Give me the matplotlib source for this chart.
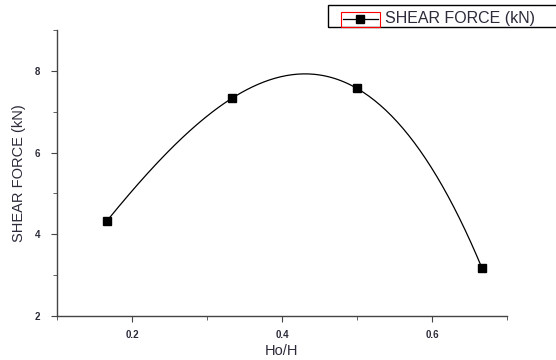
import numpy as np
import matplotlib
matplotlib.use("Agg")
import matplotlib.pyplot as plt
from matplotlib.ticker import MultipleLocator
from matplotlib.patches import Rectangle

plt.rcParams["font.family"] = ["Liberation Sans", "DejaVu Sans"]

# Data
ho_h = [0.1667, 0.3333, 0.5, 0.6667]
shear_force = [4.33, 7.33, 7.57, 3.17]

txt_color = "#2b2b3a"

fig = plt.figure(figsize=(5.56, 3.6), dpi=100)
ax = fig.add_axes([57 / 556, 44 / 360, 450 / 556, 286 / 360])

# smooth curve through the points (cubic through the 4 values)
coef = np.polyfit(ho_h, shear_force, 3)
xs = np.linspace(ho_h[0], ho_h[-1], 200)
ax.plot(xs, np.polyval(coef, xs), color="black", lw=0.9)
ax.plot(ho_h, shear_force, "s", color="black", ms=6, linestyle="none")

ax.set_xlim(0.1, 0.7)
ax.set_ylim(2, 9)
ax.xaxis.set_minor_locator(MultipleLocator(0.1))
ax.yaxis.set_minor_locator(MultipleLocator(1))
ax.set_xticks([0.2, 0.4, 0.6])
ax.set_xticklabels(["0.2", "0.4", "0.6"])
ax.set_yticks([2, 4, 6, 8])
ax.set_yticklabels(["2", "4", "6", "8"])

for s in ["top", "right"]:
    ax.spines[s].set_visible(False)
for s in ["left", "bottom"]:
    ax.spines[s].set_color("#444444")
    ax.spines[s].set_linewidth(1.0)
ax.tick_params(which="both", direction="out", colors="#444444", labelcolor=txt_color,
               labelsize=7)
ax.tick_params(which="major", length=4)
ax.tick_params(which="minor", length=3)
ax.tick_params(axis="x", pad=6)
ax.tick_params(axis="y", pad=8)
for lab in ax.get_xticklabels() + ax.get_yticklabels():
    lab.set_fontweight("bold")

ax.set_xlabel("Ho/H", fontsize=10.5, color=txt_color, labelpad=3)
ax.set_ylabel("SHEAR FORCE (kN)", fontsize=10.5, color=txt_color, labelpad=6)

# legend box in the top right corner
fig.patches.append(Rectangle((328 / 556, 1 - 27 / 360), 240 / 556, 22 / 360,
                             transform=fig.transFigure, fill=False,
                             edgecolor="black", lw=1.0))
fig.patches.append(Rectangle((341 / 556, 1 - 27 / 360), 39 / 556, 15 / 360,
                             transform=fig.transFigure, fill=False,
                             edgecolor="red", lw=0.8))
fig.add_artist(plt.Line2D([343 / 556, 378 / 556], [1 - 19 / 360] * 2,
                          transform=fig.transFigure, color="black", lw=0.9))
fig.add_artist(plt.Line2D([360 / 556], [1 - 19 / 360], transform=fig.transFigure,
                          color="black", marker="s", ms=6))
fig.text(385 / 556, 1 - 18 / 360, "SHEAR FORCE (kN)", fontsize=11.5,
         color=txt_color, va="center", ha="left")

fig.savefig("out.png", dpi=100)
